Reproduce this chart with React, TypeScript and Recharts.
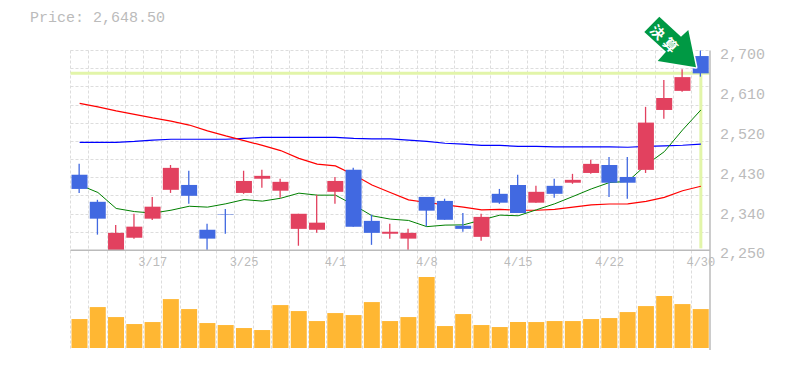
import { Bar, CartesianGrid, Cell, ComposedChart, Line, ReferenceLine, XAxis, YAxis } from "recharts";

const dates = [
  "3/11", "3/12", "3/13", "3/14", "3/17", "3/18", "3/19", "3/21", "3/24", "3/25", "3/26", "3/27",
  "3/28", "3/31", "4/1", "4/2", "4/3", "4/4", "4/7", "4/8", "4/9", "4/10", "4/11", "4/14", "4/15",
  "4/16", "4/17", "4/18", "4/21", "4/22", "4/23", "4/24", "4/25", "4/28", "4/30",
];
const dateTicks = ["3/17", "3/25", "4/1", "4/8", "4/15", "4/22", "4/30"];
const priceTicks = [2250, 2340, 2430, 2520, 2610, 2700];

const opens = [
  2420, 2359, 2250, 2278, 2321, 2386, 2397, 2296, 2331, 2379, 2411, 2384, 2298, 2296, 2381.5, 2431, 2316, 2287,
  2276, 2370, 2361, 2305, 2280, 2377, 2397, 2357, 2395, 2402, 2424, 2442, 2415, 2431, 2566, 2609, 2687.5,
];
const closes = [
  2388, 2321, 2289, 2303, 2348, 2435.5, 2372.5, 2276, 2330, 2406, 2417.5, 2404, 2332, 2312, 2406, 2303, 2289, 2291.5,
  2289, 2339, 2318.5, 2298, 2325, 2357, 2334, 2381.5, 2377, 2408.5, 2444.5, 2402, 2402, 2537.5, 2593, 2640, 2648.5,
];
const highs = [
  2444.5, 2363.5, 2307, 2332, 2370, 2442, 2429, 2309.5, 2343, 2429, 2431, 2411, 2332, 2375, 2415, 2435.5, 2330, 2309.5,
  2298, 2370, 2366, 2334, 2332, 2388, 2420, 2395, 2411, 2422, 2453.5, 2460, 2460, 2573, 2633.5, 2658, 2700,
];
const lows = [
  2379, 2285, 2250, 2276, 2318, 2379, 2354.5, 2250, 2287, 2377, 2390.5, 2368, 2260, 2289, 2354.5, 2303, 2262, 2276,
  2250, 2304, 2318.5, 2291.5, 2271, 2354.5, 2334, 2357, 2368, 2399.5, 2422, 2370, 2366, 2424, 2546, 2607, 2641,
];
const ma5 = [
  2397, 2380, 2344, 2337, 2333.5, 2340, 2349, 2347, 2354.5, 2364, 2360.5, 2367, 2378.5, 2374, 2374, 2352, 2327.5, 2320,
  2317, 2303, 2306.5, 2307, 2318, 2329, 2327.5, 2341, 2354.5, 2371, 2388, 2402.5, 2405, 2442, 2472, 2521, 2566,
];
const ma25 = [
  2581, 2573, 2564, 2556, 2548, 2541, 2532, 2519, 2507.5, 2497, 2486, 2474.5, 2457, 2444, 2440, 2420, 2397, 2380,
  2363.5, 2357.5, 2352, 2347, 2341, 2342, 2340, 2340, 2342, 2347, 2352, 2354, 2354.5, 2360, 2369, 2384, 2394,
];
const ma75 = [
  2493, 2493, 2493, 2495, 2498, 2500, 2500, 2500, 2500, 2502, 2504, 2504, 2504, 2504, 2504, 2502, 2501, 2501,
  2498, 2495, 2491, 2489, 2486, 2486, 2484, 2484, 2483, 2483, 2483, 2483, 2482, 2484, 2485, 2486.5, 2489,
];
const volumes = [
  29, 41, 31, 24, 26, 49, 39, 25, 23, 20, 18, 43, 37, 27, 35, 33, 46, 27,
  31, 71, 22, 34, 23, 21, 26, 26, 27, 27, 29, 30, 36, 42, 52, 44, 39,
];
const lastPrice = 2648.5;

const rows = dates.map((date, i) => ({
  date,
  body: [Math.min(opens[i], closes[i]), Math.max(opens[i], closes[i])],
  wick: [lows[i], highs[i]],
  rising: closes[i] >= opens[i],
  ma5: ma5[i],
  ma25: ma25[i],
  ma75: ma75[i],
  volume: volumes[i],
}));

const FONT = "'Liberation Mono', monospace";
const GREY = "#bbbbbb";
const RED = "#e2415f";
const BLUE = "#4169e1";

const gridX = dates.map((_, i) => Math.floor(70.5 + i * 18.27) + 0.5);
const gridY = Array.from({ length: 12 }, (_, i) => 50.5 + Math.round(i * 18.18));

// green marker arrow pointing at the last candle
const arrowPoints = "644.3,32 659.3,16.7 681,36.7 688.3,30 696,67.3 657.7,61 666,51.7";

export default function App() {
  return (
    <div style={{ position: "absolute", left: 0, top: 0, width: 785, height: 370, background: "#fff" }}>
      <div style={{ position: "absolute", left: 30, top: 10, font: `15px ${FONT}`, color: GREY }}>
        Price: 2,648.50
      </div>
      <ComposedChart
        width={785}
        height={370}
        data={rows}
        margin={{ top: 50.5, right: 0, bottom: 0, left: 70.5 }}
        barGap={0}
      >
        <CartesianGrid
          stroke="#dddddd"
          strokeDasharray="3 2"
          horizontalCoordinatesGenerator={() => gridY}
          verticalCoordinatesGenerator={() => gridX}
        />
        <XAxis
          xAxisId="x"
          dataKey="date"
          height={20}
          tick={false}
          tickLine={false}
          axisLine={{ stroke: GREY, strokeWidth: 1.5 }}
        />
        <XAxis xAxisId="body" dataKey="date" hide />
        <XAxis xAxisId="wick" dataKey="date" hide />
        <XAxis xAxisId="vol" dataKey="date" hide />
        <YAxis
          yAxisId="price"
          orientation="right"
          width={75}
          domain={[2025, 2700]}
          ticks={priceTicks}
          interval={0}
          tickFormatter={(v: number) => v.toLocaleString("en-US")}
          tickLine={false}
          axisLine={{ stroke: GREY, strokeWidth: 1.5 }}
          tick={{ fill: GREY, fontSize: 15, fontFamily: FONT, dy: 3, dx: 2 }}
        />
        <YAxis yAxisId="volume" hide domain={[-2, 298]} />
        <ReferenceLine xAxisId="x" yAxisId="price" y={2250} stroke={GREY} strokeWidth={1.5} />
        <ReferenceLine xAxisId="x" yAxisId="price" y={lastPrice} stroke="#e2f5a9" strokeWidth={3} zIndex={50} />
        <ReferenceLine
          xAxisId="x"
          yAxisId="price"
          segment={[
            { x: "4/30", y: lastPrice },
            { x: "4/30", y: 2254 },
          ]}
          stroke="#e2f5a9"
          strokeWidth={3}
          zIndex={50}
        />
        {/* date labels sit under the price pane, not under the volume pane */}
        {dateTicks.map((d) => (
          <ReferenceLine
            key={d}
            xAxisId="x"
            yAxisId="price"
            segment={[
              { x: d, y: 2250 },
              { x: d, y: 2196 },
            ]}
            stroke="none"
            label={{ value: d, position: "center", fill: GREY, fontSize: 12, fontFamily: FONT }}
          />
        ))}
        <Line xAxisId="x" yAxisId="price" dataKey="ma75" stroke="#0000ff" strokeWidth={1.2} dot={false} isAnimationActive={false} zIndex={100} />
        <Line xAxisId="x" yAxisId="price" dataKey="ma25" stroke="#ff0000" strokeWidth={1.2} dot={false} isAnimationActive={false} zIndex={100} />
        <Line xAxisId="x" yAxisId="price" dataKey="ma5" stroke="#008000" strokeWidth={1} dot={false} isAnimationActive={false} zIndex={100} />
        <Bar xAxisId="vol" yAxisId="volume" dataKey="volume" fill="#ffb733" barSize={16} isAnimationActive={false} />
        <Bar xAxisId="wick" yAxisId="price" dataKey="wick" barSize={1.3} isAnimationActive={false}>
          {rows.map((r) => (
            <Cell key={r.date} fill={r.rising ? RED : BLUE} />
          ))}
        </Bar>
        <Bar xAxisId="body" yAxisId="price" dataKey="body" barSize={16} isAnimationActive={false}>
          {rows.map((r) => (
            <Cell key={r.date} fill={r.rising ? RED : BLUE} />
          ))}
        </Bar>
      </ComposedChart>
      <svg width={785} height={370} style={{ position: "absolute", left: 0, top: 0, pointerEvents: "none" }}>
        <polygon points={arrowPoints} fill="#ffffff" stroke="#ffffff" strokeWidth={3} strokeLinejoin="round" />
        <polygon points={arrowPoints} fill="#009944" />
        <text
          x={666}
          y={39.5}
          transform="rotate(45 666 39.5)"
          textAnchor="middle"
          dominantBaseline="central"
          fill="#ffffff"
          fontSize={14}
          fontWeight={700}
          letterSpacing={4}
          fontFamily="'Noto Sans CJK JP', sans-serif"
        >
          決算
        </text>
      </svg>
    </div>
  );
}
